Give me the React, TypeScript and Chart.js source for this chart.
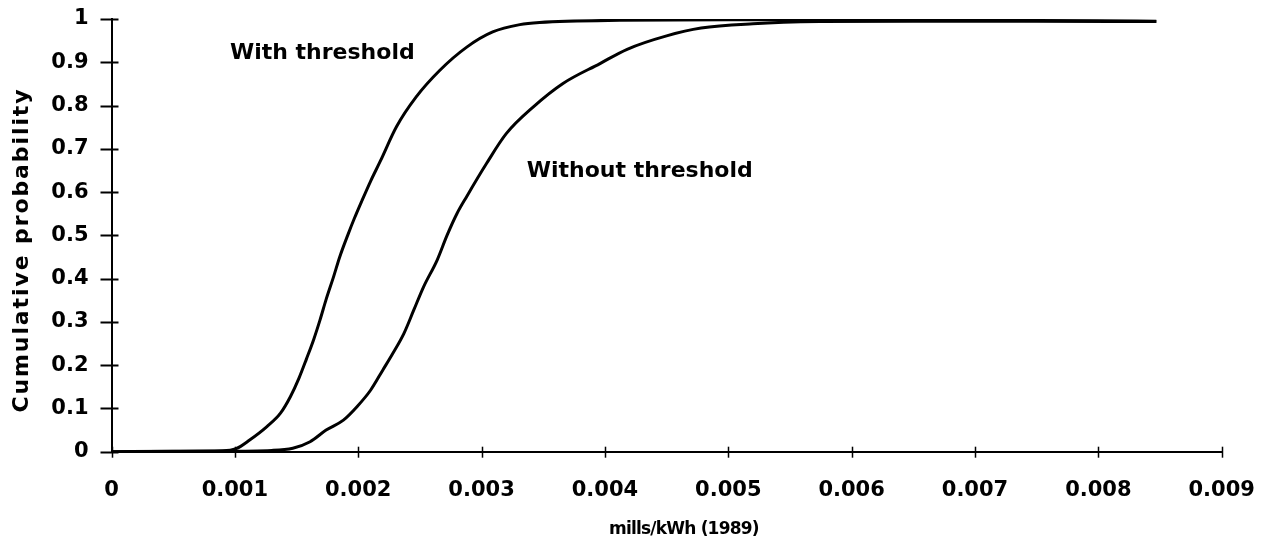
import React, { useEffect, useRef } from 'react';
import { Chart, registerables } from 'chart.js';

Chart.register(...registerables);

// ---- data ----
const xTickValues = [0, 0.001, 0.002, 0.003, 0.004, 0.005, 0.006, 0.007, 0.008, 0.009];
const xTickLabels = ['0', '0.001', '0.002', '0.003', '0.004', '0.005', '0.006', '0.007', '0.008', '0.009'];
const yTickValues = [0, 0.1, 0.2, 0.3, 0.4, 0.5, 0.6, 0.7, 0.8, 0.9, 1];
const yTickLabels = ['0', '0.1', '0.2', '0.3', '0.4', '0.5', '0.6', '0.7', '0.8', '0.9', '1'];

const withX = [0, 0.0005, 0.0009, 0.00101, 0.00112, 0.00126, 0.00137, 0.00145, 0.00152, 0.00158, 0.00164, 0.00169, 0.00174, 0.0018, 0.00185, 0.00192, 0.00197, 0.00203, 0.0021, 0.00218, 0.00231, 0.00247, 0.00266, 0.00288, 0.00309, 0.00331, 0.00347, 0.00412, 0.005, 0.006, 0.007, 0.008, 0.00847];
const withY = [0, 0.001, 0.002, 0.007, 0.027, 0.058, 0.089, 0.127, 0.17, 0.214, 0.26, 0.304, 0.352, 0.404, 0.45, 0.504, 0.54, 0.58, 0.625, 0.672, 0.751, 0.82, 0.881, 0.935, 0.97, 0.987, 0.992, 0.997, 0.998, 0.998, 0.997, 0.996, 0.995];

const withoutX = [0, 0.0008, 0.0013, 0.00147, 0.00161, 0.00174, 0.00188, 0.00199, 0.0021, 0.0022, 0.00228, 0.00237, 0.00245, 0.00253, 0.00264, 0.00272, 0.0028, 0.00288, 0.00304, 0.0032, 0.00342, 0.00366, 0.00396, 0.00418, 0.0045, 0.00478, 0.0052, 0.00574, 0.0065, 0.0075, 0.00847];
const withoutY = [0, 0.001, 0.003, 0.008, 0.023, 0.05, 0.073, 0.104, 0.142, 0.189, 0.227, 0.273, 0.327, 0.381, 0.443, 0.5, 0.55, 0.59, 0.666, 0.735, 0.797, 0.851, 0.897, 0.93, 0.961, 0.979, 0.989, 0.994, 0.995, 0.995, 0.994];

const seriesNames = ['With threshold', 'Without threshold'];
const labelAnchorX = [0.00096, 0.003366];
const labelAnchorY = [0.907, 0.636];

const xTitle = 'mills/kWh (1989)';
const yTitle = 'Cumulative probability';

const FONT = '"DejaVu Sans", "Liberation Sans", sans-serif';

const toPoints = (xs: number[], ys: number[]) => xs.map((x, i) => ({ x, y: ys[i] }));

const decor = {
  id: 'decor',
  afterDraw(chart: any) {
    const { ctx, chartArea, scales } = chart;
    const xs = scales.x;
    const ys = scales.y;
    ctx.save();
    ctx.strokeStyle = '#000';
    ctx.lineWidth = 2;
    yTickValues.forEach((v) => {
      const p = Math.round(ys.getPixelForValue(v)) + 0.5;
      ctx.beginPath();
      ctx.moveTo(chartArea.left - 11, p);
      ctx.lineTo(chartArea.left + 7, p);
      ctx.stroke();
    });
    ctx.lineWidth = 1.5;
    xTickValues.forEach((v) => {
      const p = Math.round(xs.getPixelForValue(v)) + 0.5;
      ctx.beginPath();
      ctx.moveTo(p, chartArea.bottom - 5);
      ctx.lineTo(p, chartArea.bottom + 6);
      ctx.stroke();
    });

    ctx.fillStyle = '#000';
    ctx.font = `bold 22px ${FONT}`;
    ctx.textAlign = 'left';
    ctx.textBaseline = 'alphabetic';
    seriesNames.forEach((name, i) => {
      ctx.fillText(name, xs.getPixelForValue(labelAnchorX[i]), ys.getPixelForValue(labelAnchorY[i]));
    });

    // y title
    ctx.save();
    ctx.font = `bold 22px ${FONT}`;
    ctx.letterSpacing = '1.9px';
    ctx.translate(chartArea.left - 89, ys.getPixelForValue(0.466));
    ctx.rotate(-Math.PI / 2);
    ctx.textAlign = 'center';
    ctx.textBaseline = 'middle';
    ctx.fillText(yTitle, 0, 0);
    ctx.restore();

    // x title
    ctx.save();
    ctx.font = `bold 17px ${FONT}`;
    ctx.letterSpacing = '-0.8px';
    ctx.textAlign = 'center';
    ctx.textBaseline = 'middle';
    ctx.fillText(xTitle, xs.getPixelForValue(0.00464), chartArea.bottom + 78);
    ctx.restore();
    ctx.restore();
  },
};

export default function App() {
  const ref = useRef<HTMLCanvasElement | null>(null);

  useEffect(() => {
    if (!ref.current) return;
    const chart = new Chart(ref.current, {
      type: 'line',
      data: {
        datasets: [
          {
            label: seriesNames[0],
            data: toPoints(withX, withY),
            borderColor: '#000',
            borderWidth: 3,
            pointRadius: 0,
            cubicInterpolationMode: 'monotone',
            fill: false,
          },
          {
            label: seriesNames[1],
            data: toPoints(withoutX, withoutY),
            borderColor: '#000',
            borderWidth: 3,
            pointRadius: 0,
            cubicInterpolationMode: 'monotone',
            fill: false,
          },
        ],
      },
      options: {
        animation: false,
        responsive: true,
        maintainAspectRatio: false,
        events: [],
        layout: { padding: { top: 19, right: 41.3, left: 0, bottom: 0 } },
        plugins: {
          legend: { display: false },
          tooltip: { enabled: false },
          title: { display: false },
        },
        scales: {
          x: {
            type: 'linear',
            min: 0,
            max: 0.009,
            afterFit: (s: any) => {
              s.height = 102.3;
              s.paddingLeft = 0;
              s.paddingRight = 0;
            },
            afterBuildTicks: (s: any) => { s.ticks = xTickValues.map((v) => ({ value: v })); },
            grid: { display: false, drawTicks: false },
            border: { display: true, color: '#000', width: 2 },
            ticks: {
              padding: 26,
              color: '#000',
              maxRotation: 0,
              autoSkip: false,
              font: { family: FONT, size: 21, weight: 'bold' },
              callback: (_v: any, i: number) => xTickLabels[i],
            },
          },
          y: {
            type: 'linear',
            min: 0,
            max: 1,
            afterFit: (s: any) => {
              s.width = 111.5;
              s.paddingTop = 0;
              s.paddingBottom = 0;
            },
            afterBuildTicks: (s: any) => { s.ticks = yTickValues.map((v) => ({ value: v })); },
            grid: { display: false, drawTicks: false },
            border: { display: true, color: '#000', width: 2 },
            ticks: {
              padding: 23,
              color: '#000',
              autoSkip: false,
              font: { family: FONT, size: 21, weight: 'bold' },
              callback: (_v: any, i: number) => yTickLabels[i],
            },
          },
        },
      },
      plugins: [decor],
    } as any);
    return () => chart.destroy();
  }, []);

  return (
    <div style={{ position: 'absolute', left: 0, top: 0, width: 1263, height: 554, background: '#fff' }}>
      <canvas ref={ref} />
    </div>
  );
}
